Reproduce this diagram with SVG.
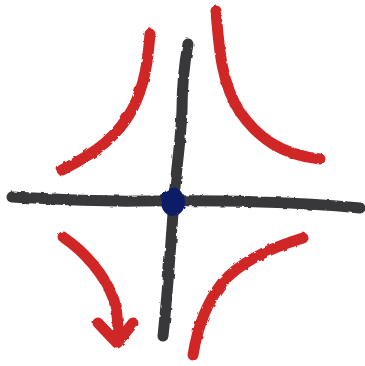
<svg xmlns="http://www.w3.org/2000/svg" width="365" height="366" viewBox="0 0 365 366">
<defs>
<filter id="rough" x="-10%" y="-10%" width="120%" height="120%">
<feTurbulence type="fractalNoise" baseFrequency="0.15" numOctaves="2" seed="3"/>
<feDisplacementMap in="SourceGraphic" scale="3"/>
</filter>
</defs>
<style>
.ax{fill:none;stroke:#38383b;stroke-width:11;stroke-linecap:round;stroke-linejoin:round}
.cv{fill:none;stroke:#d02828;stroke-width:11;stroke-linecap:round;stroke-linejoin:round}
</style>
<rect width="365" height="366" fill="#ffffff"/>
<g filter="url(#rough)">
<path class="ax" d="M12,197 C50,199 100,202 140,201 C180,201 220,200 260,202 C300,203 330,205 360,208"/>
<path class="ax" d="M188,44 C185,60 182,80 182,110 C181,140 176,170 174,200 C171,240 168,290 163,336"/>
<ellipse cx="173" cy="202" rx="12" ry="14" fill="#0d1a66"/>
<path class="cv" d="M150,34 C148,60 145,85 132,110 C118,135 98,152 62,170"/>
<path class="cv" d="M216,11 C219,50 222,85 240,112 C258,138 282,155 320,159"/>
<path class="cv" d="M63,237 C85,252 105,275 114,300 C119,318 118,330 117,342"/>
<path class="cv" d="M98,323 L117,343 L133,323"/>
<path class="cv" d="M303,238 C270,248 240,262 222,283 C205,305 197,330 193,355"/>
</g>
</svg>
